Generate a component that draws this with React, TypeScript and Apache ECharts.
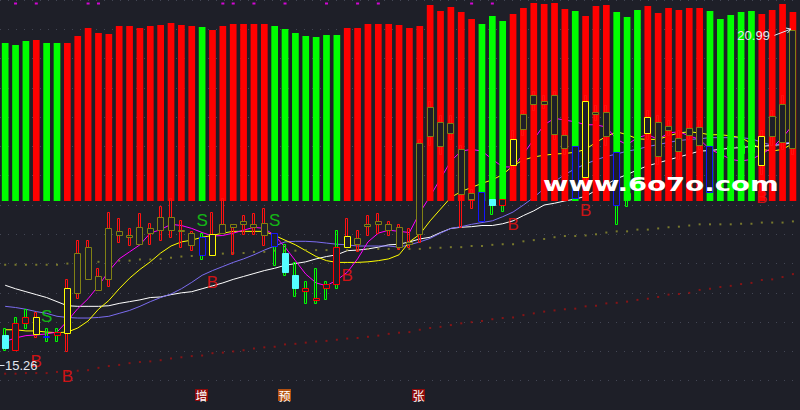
import React, { useEffect, useRef } from "react";
import * as echarts from "echarts";

const BG = "#1e1f28";

// 77 trading days shown
const days = Array.from({ length: 77 }, (_, i) => `D${i + 1}`);

// top indicator bars (0..100) and their direction (1 = red, -1 = green)
const barValue = [
  79, 78, 80, 80.5, 79, 79, 79, 82.5, 86.5, 84,
  83.5, 87.5, 87.5, 86.5, 87.5, 88, 89, 88, 87.5, 87,
  85.5, 87.5, 88.5, 88.5, 88.5, 88.5, 87.5, 86, 84, 82.5,
  82, 83, 83, 86.5, 86.5, 88.5, 88.5, 88.5, 88, 86.5,
  87.5, 98, 95, 97, 94.5, 91, 88.5, 92.5, 90, 93.5,
  96.5, 99, 98.5, 99, 96, 95, 92.5, 97.5, 98, 94.5,
  92, 95.5, 97.5, 94, 96.5, 95.5, 96.5, 96.5, 95, 91,
  93, 94.5, 95, 93.5, 95.5, 98.5, 94.5,
];
const barDir = [
  -1, -1, -1, 1, -1, -1, 1, 1, 1, 1,
  1, 1, 1, 1, 1, 1, 1, 1, 1, -1,
  1, 1, 1, 1, 1, 1, -1, -1, -1, -1,
  -1, -1, -1, 1, 1, 1, 1, 1, 1, 1,
  1, 1, 1, 1, 1, 1, -1, -1, -1, 1,
  1, 1, 1, 1, 1, -1, 1, 1, 1, -1,
  -1, -1, 1, 1, 1, 1, 1, 1, -1, -1,
  -1, -1, -1, 1, 1, 1, 1,
];

// candles
const open = [
  15.78, 15.53, 15.98, 15.80, 15.77, 15.78, 15.82, 16.50, 16.73, 16.55,
  16.73, 17.48, 17.45, 17.33, 17.52, 17.58, 17.58, 17.57, 17.32, 17.45,
  17.15, 17.53, 17.63, 17.67, 17.63, 17.48, 17.53, 17.18, 16.80, 16.53,
  16.38, 16.58, 16.65, 17.28, 17.33, 17.65, 17.68, 17.57, 17.28, 17.33,
  17.50, 19.17, 19.00, 19.23, 18.18, 18.10, 18.22, 18.10, 18.00, 18.68,
  19.30, 19.73, 19.73, 19.22, 18.98, 19.00, 18.48, 19.55, 19.17, 18.90,
  18.20, 18.95, 19.23, 18.83, 19.28, 18.92, 19.20, 19.03, 19.00, 18.97,
  19.00, 19.02, 19.05, 18.68, 19.17, 19.08, 18.98,
];
const close = [
  15.55, 15.98, 16.08, 16.08, 15.75, 15.83, 16.58, 17.18, 17.28, 16.78,
  17.60, 17.55, 17.48, 17.63, 17.60, 17.80, 17.80, 17.58, 17.52, 17.15,
  17.50, 17.68, 17.68, 17.73, 17.68, 17.70, 17.30, 16.85, 16.58, 16.58,
  16.42, 16.65, 17.28, 17.47, 17.43, 17.68, 17.73, 17.68, 17.62, 17.37,
  19.05, 19.67, 19.42, 19.40, 18.95, 18.20, 17.72, 18.00, 18.10, 19.13,
  19.55, 19.87, 19.77, 19.88, 19.20, 18.12, 19.77, 19.58, 19.58, 18.00,
  18.10, 18.62, 19.50, 19.42, 19.35, 19.15, 19.32, 19.33, 18.23, 18.80,
  18.85, 18.88, 18.90, 19.17, 19.52, 19.73, 20.98,
];
const low = [
  15.52, 15.53, 15.90, 15.75, 15.67, 15.68, 15.50, 16.42, 16.73, 16.55,
  16.62, 17.37, 17.32, 17.33, 17.33, 17.40, 17.45, 17.28, 17.23, 17.07,
  17.15, 17.53, 17.17, 17.50, 17.50, 17.32, 16.98, 16.80, 16.45, 16.32,
  16.33, 16.40, 16.58, 17.28, 17.22, 17.48, 17.52, 17.48, 17.25, 17.28,
  17.37, 19.03, 18.87, 19.12, 17.62, 17.95, 17.72, 17.85, 17.90, 18.62,
  19.20, 19.62, 19.65, 19.12, 18.87, 18.12, 18.37, 19.45, 19.03, 17.67,
  17.98, 18.45, 19.12, 18.70, 19.20, 18.78, 19.12, 18.95, 18.20, 18.70,
  18.75, 18.80, 18.82, 18.53, 19.03, 18.95, 18.87,
];
const high = [
  15.90, 16.08, 16.22, 16.18, 15.90, 15.90, 16.73, 17.40, 17.40, 16.93,
  17.88, 17.78, 17.60, 17.87, 17.70, 17.98, 18.12, 17.75, 17.55, 17.53,
  17.88, 18.12, 17.68, 17.83, 17.87, 17.95, 17.53, 17.33, 17.03, 16.70,
  16.93, 16.70, 17.57, 17.78, 17.57, 17.83, 17.87, 17.72, 17.68, 17.60,
  19.12, 19.78, 19.53, 19.53, 19.03, 18.28, 18.70, 18.20, 18.20, 19.28,
  19.62, 19.95, 19.87, 19.95, 19.28, 19.45, 19.87, 19.70, 19.70, 19.28,
  18.28, 19.12, 19.62, 19.53, 19.45, 19.28, 19.45, 19.45, 19.37, 19.10,
  19.15, 19.18, 19.20, 19.28, 19.62, 19.87, 20.99,
];
// body style class of each candle
const bodyKind = [
  "c", "r", "r", "y", "b", "r", "y", "o", "o", "o",
  "o", "o", "o", "o", "o", "o", "o", "o", "o", "b",
  "y", "o", "o", "o", "o", "o", "b", "c", "c", "r",
  "r", "r", "r", "y", "o", "o", "o", "o", "o", "o",
  "o", "o", "o", "o", "o", "o", "b", "c", "r", "y",
  "o", "o", "o", "o", "o", "b", "y", "o", "o", "b",
  "g", "g", "y", "o", "o", "o", "o", "o", "b", "g",
  "g", "g", "g", "y", "o", "o", "o",
];

// moving averages
const maWhite = [
  16.63, 16.57, 16.52, 16.47, 16.42, 16.35, 16.28, 16.27, 16.27, 16.27,
  16.28, 16.32, 16.35, 16.38, 16.42, 16.43, 16.47, 16.50, 16.52, 16.57,
  16.62, 16.67, 16.73, 16.78, 16.83, 16.88, 16.92, 16.97, 17.00, 17.03,
  17.08, 17.12, 17.15, 17.22, 17.23, 17.25, 17.28, 17.32, 17.33, 17.37,
  17.42, 17.45, 17.53, 17.60, 17.62, 17.63, 17.65, 17.65, 17.68, 17.73,
  17.82, 17.90, 18.00, 18.03, 18.07, 18.10, 18.15, 18.25, 18.35, 18.45,
  18.52, 18.60, 18.67, 18.72, 18.77, 18.82, 18.87, 18.92, 18.93, 18.95,
  18.97, 18.98, 19.00, 19.00, 19.02, 19.03, 19.07,
];
const maPurple = [
  16.27, 16.25, 16.22, 16.18, 16.15, 16.10, 16.08, 16.07, 16.07, 16.08,
  16.10, 16.15, 16.20, 16.27, 16.35, 16.42, 16.48, 16.57, 16.68, 16.80,
  16.88, 16.95, 17.02, 17.08, 17.15, 17.23, 17.30, 17.37, 17.38, 17.38,
  17.37, 17.35, 17.33, 17.32, 17.30, 17.30, 17.30, 17.30, 17.28, 17.32,
  17.37, 17.43, 17.52, 17.60, 17.63, 17.67, 17.70, 17.73, 17.80, 17.88,
  18.00, 18.13, 18.28, 18.40, 18.52, 18.62, 18.70, 18.77, 18.83, 18.87,
  18.92, 18.95, 19.00, 19.03, 19.07, 19.10, 19.12, 19.13, 19.15, 19.15,
  19.15, 19.15, 19.13, 19.07, 19.02, 19.05, 19.08,
];
const maYellow = [
  15.87, 15.87, 15.85, 15.85, 15.83, 15.82, 15.83, 15.90, 16.02, 16.22,
  16.37, 16.57, 16.75, 16.90, 17.03, 17.18, 17.30, 17.37, 17.40, 17.45,
  17.48, 17.52, 17.55, 17.55, 17.55, 17.55, 17.48, 17.40, 17.32, 17.22,
  17.12, 17.05, 17.02, 17.02, 17.02, 17.03, 17.05, 17.08, 17.15, 17.37,
  17.50, 17.73, 17.93, 18.13, 18.23, 18.30, 18.37, 18.43, 18.52, 18.67,
  18.77, 18.82, 18.85, 18.87, 18.88, 18.90, 18.95, 19.07, 19.17, 19.25,
  19.20, 19.13, 19.12, 19.12, 19.18, 19.23, 19.25, 19.23, 19.20, 19.20,
  19.18, 19.15, 19.05, 18.95, 18.92, 18.95, 19.05,
];
const maMagenta = [
  15.67, 15.73, 15.77, 15.78, 15.80, 15.83, 16.02, 16.23, 16.40, 16.62,
  16.87, 17.08, 17.20, 17.32, 17.52, 17.58, 17.67, 17.65, 17.60, 17.53,
  17.47, 17.48, 17.52, 17.57, 17.62, 17.60, 17.48, 17.28, 17.05, 16.82,
  16.67, 16.62, 16.72, 16.85, 17.08, 17.37, 17.52, 17.57, 17.55, 17.53,
  17.87, 18.15, 18.45, 18.75, 18.92, 18.95, 18.92, 18.78, 18.65, 18.65,
  18.87, 19.12, 19.37, 19.48, 19.45, 19.42, 19.37, 19.37, 19.33, 19.12,
  19.03, 19.15, 19.20, 19.12, 19.23, 19.25, 19.18, 19.12, 18.95, 18.87,
  18.78, 18.75, 18.78, 18.87, 18.98, 19.15, 19.37,
];
// dotted support lines
const dotOlive = [
  16.98, 16.98, 16.98, 16.98, 16.98, 16.98, 17.00, 17.02, 17.02, 17.03,
  17.03, 17.05, 17.05, 17.07, 17.07, 17.08, 17.10, 17.12, 17.13, 17.15,
  17.15, 17.17, 17.18, 17.18, 17.20, 17.20, 17.22, 17.22, 17.22, 17.23,
  17.23, 17.23, 17.23, 17.23, 17.23, 17.25, 17.25, 17.25, 17.25, 17.25,
  17.25, 17.27, 17.27, 17.28, 17.28, 17.30, 17.30, 17.32, 17.33, 17.33,
  17.38, 17.40, 17.42, 17.45, 17.47, 17.47, 17.48, 17.50, 17.53, 17.55,
  17.55, 17.58, 17.58, 17.60, 17.62, 17.63, 17.65, 17.67, 17.67, 17.67,
  17.67, 17.68, 17.68, 17.70, 17.70, 17.70, 17.72,
];
const dotRed = [
  15.12, 15.12, 15.13, 15.13, 15.13, 15.15, 15.15, 15.17, 15.18, 15.22,
  15.25, 15.27, 15.30, 15.32, 15.33, 15.35, 15.38, 15.40, 15.42, 15.43,
  15.47, 15.48, 15.50, 15.52, 15.55, 15.57, 15.58, 15.62, 15.63, 15.65,
  15.67, 15.68, 15.70, 15.72, 15.73, 15.75, 15.77, 15.80, 15.82, 15.83,
  15.87, 15.90, 15.92, 15.95, 15.98, 16.00, 16.02, 16.05, 16.07, 16.08,
  16.12, 16.15, 16.18, 16.20, 16.22, 16.23, 16.27, 16.28, 16.32, 16.33,
  16.35, 16.38, 16.40, 16.43, 16.47, 16.48, 16.50, 16.55, 16.57, 16.60,
  16.62, 16.65, 16.67, 16.72, 16.73, 16.77, 16.82,
];

// buy / sell signals
const sigIndex = [3, 6, 4, 19, 20, 26, 33, 49, 56, 73];
const sigText = ["B", "B", "S", "S", "B", "S", "B", "B", "B", "B"];
const sigPrice = [15.33, 15.07, 16.1, 17.74, 16.68, 17.74, 16.8, 17.66, 17.91, 18.13];

// top markers
const markIndex = [1, 3, 8, 9, 21, 22, 24, 27, 31, 34, 36, 45, 47];
const markPrice = 21.44;

// bottom event tags
const tagIndex = [19, 27, 40];
const tagText = ["增", "预", "张"];
const tagPrice = 14.75;

const HIGH_LABEL = 20.99;
const LOW_LABEL = 15.26;

const BODY: Record<string, { stroke: string; fill: string }> = {
  o: { stroke: "#808014", fill: BG },
  y: { stroke: "#ffff00", fill: BG },
  b: { stroke: "#1414ff", fill: BG },
  c: { stroke: "#54ffff", fill: "#54ffff" },
  r: { stroke: "#ff0000", fill: BG },
  g: { stroke: "#00ff00", fill: "#00ff00" },
};

function buildOption(): any {
  const candleData = days.map((_, i) => [i, open[i], close[i], low[i], high[i]]);
  const lineSeries = (data: number[], color: string) => ({
    type: "line",
    xAxisIndex: 0,
    yAxisIndex: 0,
    data,
    showSymbol: false,
    symbol: "none",
    lineStyle: { color, width: 1 },
    z: 1,
    silent: true,
  });
  const dotSeries = (data: number[], color: string) => ({
    type: "scatter",
    xAxisIndex: 0,
    yAxisIndex: 0,
    data: data.map((v, i) => [i, v]),
    symbol: "rect",
    symbolSize: 2,
    itemStyle: { color },
    z: 1,
    silent: true,
  });
  return {
    animation: false,
    backgroundColor: BG,
    grid: [
      { left: -1.9, width: 800, top: -3, height: 420 },
      { left: -1.9, width: 800, top: 1, height: 200 },
    ],
    xAxis: [
      { type: "category", data: days, gridIndex: 0, show: false },
      { type: "category", data: days, gridIndex: 1, show: false },
    ],
    yAxis: [
      {
        type: "value",
        gridIndex: 0,
        min: 14.5,
        max: 21.5,
        interval: 0.5,
        axisLine: { show: false },
        axisTick: { show: false },
        axisLabel: { show: false },
        splitLine: { show: true, lineStyle: { color: "#434654", width: 1, type: [1, 7] } },
      },
      { type: "value", gridIndex: 1, min: 0, max: 100, show: false, splitLine: { show: false } },
    ],
    series: [
      dotSeries(dotRed, "#a01212"),
      dotSeries(dotOlive, "#8f8f2e"),
      lineSeries(maWhite, "#ffffff"),
      lineSeries(maPurple, "#7b6cf0"),
      lineSeries(maYellow, "#ffff00"),
      lineSeries(maMagenta, "#ff00ff"),
      {
        type: "bar",
        xAxisIndex: 1,
        yAxisIndex: 1,
        barWidth: 6.7,
        z: 2,
        silent: true,
        data: barValue.map((v, i) => ({
          value: v,
          itemStyle: { color: barDir[i] > 0 ? "#ff0000" : "#00ff00" },
        })),
      },
      {
        type: "custom",
        xAxisIndex: 0,
        yAxisIndex: 0,
        z: 3,
        silent: true,
        encode: { x: 0, y: [1, 2, 3, 4] },
        data: candleData,
        renderItem: (params: any, api: any) => {
          const idx = params.dataIndex;
          const i = api.value(0);
          const o = api.value(1);
          const c = api.value(2);
          const l = api.value(3);
          const h = api.value(4);
          const pTop = api.coord([i, Math.max(o, c)]);
          const pBot = api.coord([i, Math.min(o, c)]);
          const pHi = api.coord([i, h]);
          const pLo = api.coord([i, l]);
          const cx = pTop[0];
          const body = BODY[bodyKind[idx]];
          const wickColor = barDir[idx] > 0 ? "#ff1010" : "#00ff00";
          const bx = Math.round(cx - 3.5) + 0.5;
          const by = Math.round(pTop[1]) + 0.5;
          const bh = Math.max(1, Math.round(pBot[1]) - Math.round(pTop[1]));
          const wx = Math.round(cx) - 1.5;
          const wy = Math.round(pHi[1]) + 0.5;
          const wh = Math.max(1, Math.round(pLo[1]) - Math.round(pHi[1]));
          return {
            type: "group",
            children: [
              {
                type: "rect",
                shape: { x: wx, y: wy, width: 2, height: wh },
                style: { fill: "none", stroke: wickColor, lineWidth: 1 },
              },
              {
                type: "rect",
                shape: { x: bx, y: by, width: 6, height: bh },
                style: { fill: body.fill, stroke: body.stroke, lineWidth: 1 },
              },
            ],
          };
        },
      },
      {
        type: "scatter",
        xAxisIndex: 0,
        yAxisIndex: 0,
        z: 4,
        silent: true,
        symbol: "rect",
        symbolSize: [3, 2],
        itemStyle: { color: "#ff00ff" },
        data: markIndex.map((i) => [i, markPrice]),
      },
      {
        type: "scatter",
        xAxisIndex: 0,
        yAxisIndex: 0,
        z: 4,
        silent: true,
        symbolSize: 1,
        itemStyle: { color: "rgba(0,0,0,0)" },
        data: sigIndex.map((i, k) => ({
          name: sigText[k],
          value: [i, sigPrice[k]],
          label: { color: sigText[k] === "B" ? "#ff1010" : "#10e010" },
        })),
        label: {
          show: true,
          position: "inside",
          formatter: "{b}",
          fontSize: 17,
          fontFamily: "Liberation Sans Narrow, Liberation Sans",
        },
      },
    ],
  };
}

export default function App() {
  const ref = useRef<HTMLDivElement>(null);
  useEffect(() => {
    document.body.style.margin = "0";
    document.body.style.background = BG;
    const chart = echarts.init(ref.current as HTMLDivElement, null, { renderer: "svg" });
    chart.setOption(buildOption());
    const toPx = (i: number, v: number) =>
      chart.convertToPixel({ xAxisIndex: 0, yAxisIndex: 0 }, [i, v]) as number[];
    const pH = toPx(days.length - 1, HIGH_LABEL);
    const pL = toPx(0, LOW_LABEL);
    const txt = "#e2e8f0";
    const tagGraphics: any[] = [];
    tagIndex.forEach((idx, k) => {
      const p = toPx(idx, tagPrice);
      const x0 = Math.round(p[0] - 7.5);
      const y0 = Math.round(p[1] - 6);
      tagGraphics.push({
        type: "rect",
        z: 100,
        shape: { x: x0, y: y0, width: 13, height: 12 },
        style: { fill: tagText[k] === "预" ? "#b4500f" : "#8c0a0a" },
      });
      tagGraphics.push({
        type: "text",
        z: 101,
        x: x0 + 6.5,
        y: y0 + 6,
        style: {
          text: tagText[k],
          fill: "#ffffff",
          font: "12px 'Noto Sans CJK SC'",
          textAlign: "center",
          textVerticalAlign: "middle",
        },
      });
    });
    chart.setOption({
      graphic: [
        ...tagGraphics,
        {
          type: "text",
          z: 100,
          x: pH[0] - 23,
          y: pH[1] + 5.5,
          style: {
            text: HIGH_LABEL.toFixed(2),
            fill: txt,
            font: "13px 'Liberation Sans'",
            textAlign: "right",
            textVerticalAlign: "middle",
          },
        },
        {
          type: "line",
          z: 100,
          shape: { x1: pH[0] - 18.5, y1: pH[1] + 5.5, x2: pH[0] - 2, y2: pH[1] - 0.8 },
          style: { stroke: txt, lineWidth: 1 },
        },
        {
          type: "polyline",
          z: 100,
          shape: {
            points: [
              [pH[0] - 7, pH[1] - 1.8],
              [pH[0] - 2, pH[1] - 0.8],
              [pH[0] - 5.5, pH[1] + 3.2],
            ],
          },
          style: { stroke: txt, lineWidth: 1, fill: "none" },
        },
        {
          type: "line",
          z: 100,
          shape: { x1: 0, y1: Math.round(pL[1]) + 0.5, x2: 4.5, y2: Math.round(pL[1]) + 0.5 },
          style: { stroke: txt, lineWidth: 1 },
        },
        {
          type: "text",
          z: 100,
          x: 5,
          y: pL[1],
          style: {
            text: LOW_LABEL.toFixed(2),
            fill: txt,
            font: "13px 'Liberation Sans'",
            textAlign: "left",
            textVerticalAlign: "middle",
          },
        },
        {
          type: "text",
          z: 100,
          x: 543,
          y: 185,
          scaleX: 1.45,
          style: {
            text: "www.6o7o.com",
            fill: "#ffffff",
            font: "bold 19px 'DejaVu Sans'",
            textAlign: "left",
            textVerticalAlign: "middle",
          },
        },
      ],
    });
    return () => chart.dispose();
  }, []);
  return (
    <div
      ref={ref}
      style={{ position: "fixed", left: 0, top: 0, width: 800, height: 410 }}
    />
  );
}
